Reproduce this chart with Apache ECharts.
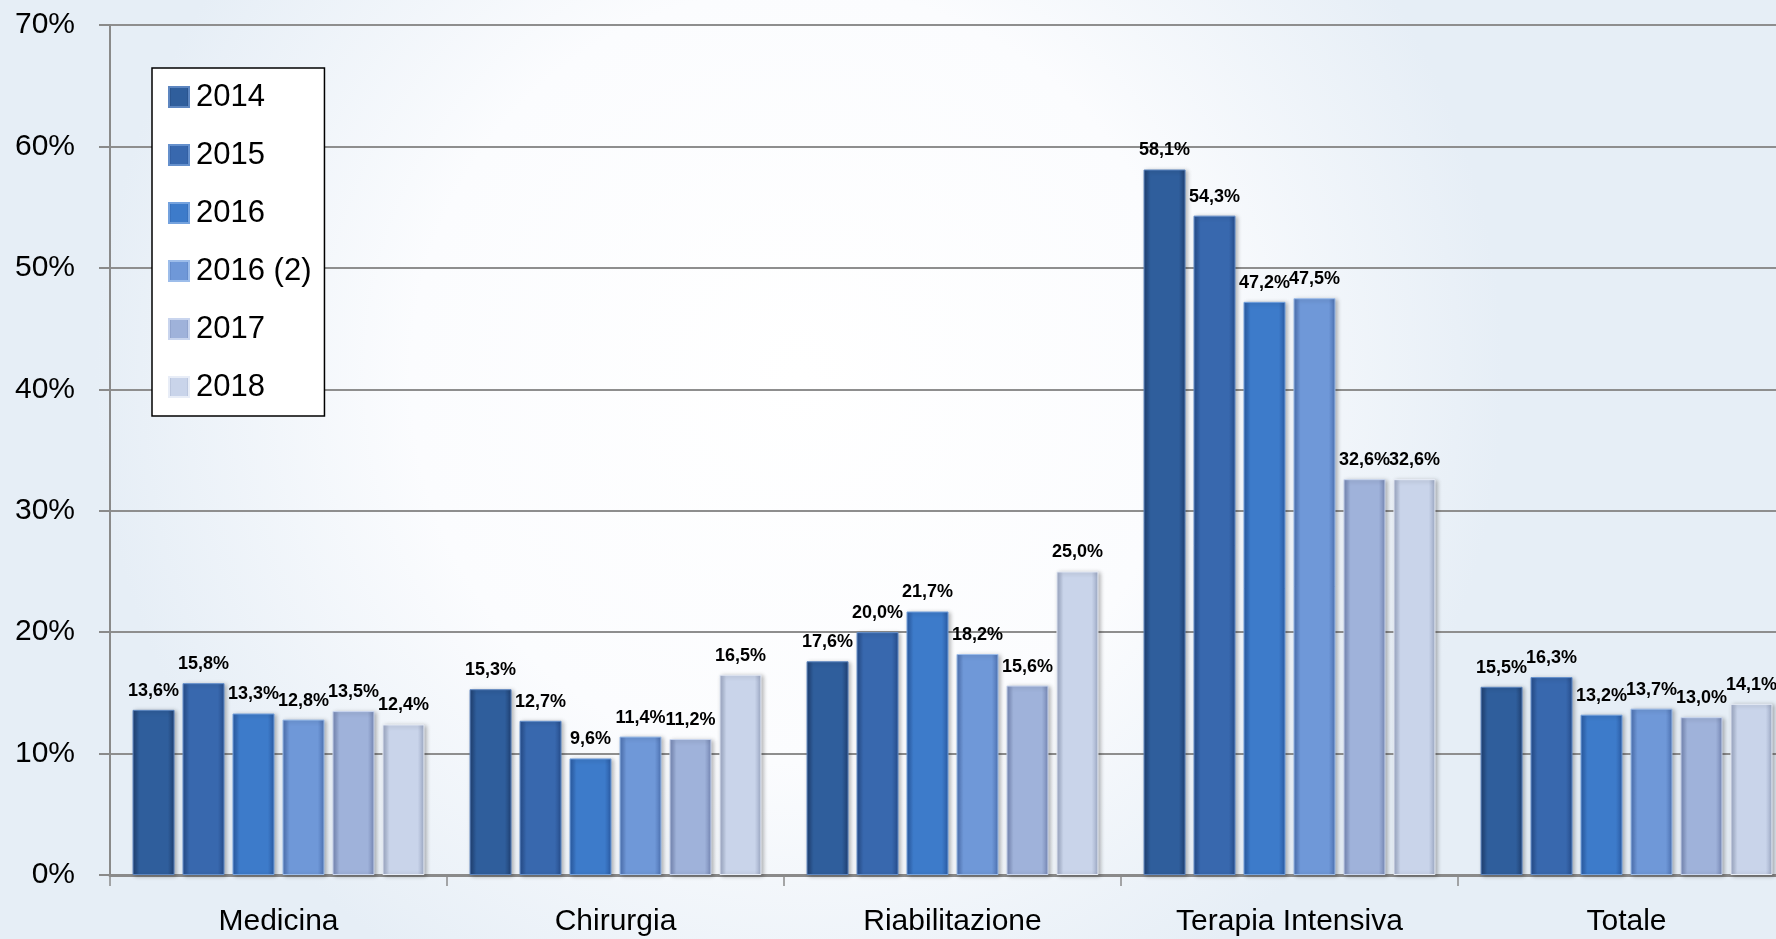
<!DOCTYPE html>
<html>
<head>
<meta charset="utf-8">
<title>Percentuale per reparto 2014-2018</title>
<script src="https://cdn.jsdelivr.net/npm/echarts@6/dist/echarts.min.js"></script>
<style>
  html, body { margin: 0; padding: 0; width: 100%; height: 100%; overflow: hidden; }
  #chart { width: 1776px; height: 939px; }
</style>
</head>
<body>
<div id="chart"></div>
<script>
// Reparti (categorie sull'asse x)
const categories = ['Medicina', 'Chirurgia', 'Riabilitazione', 'Terapia Intensiva', 'Totale'];

// Valori percentuali per anno
const years = ['2014', '2015', '2016', '2016 (2)', '2017', '2018'];
const v2014  = [13.6, 15.3, 17.6, 58.1, 15.5];
const v2015  = [15.8, 12.7, 20.0, 54.3, 16.3];
const v2016  = [13.3,  9.6, 21.7, 47.2, 13.2];
const v2016b = [12.8, 11.4, 18.2, 47.5, 13.7];
const v2017  = [13.5, 11.2, 15.6, 32.6, 13.0];
const v2018  = [12.4, 16.5, 25.0, 32.6, 14.1];

// Etichette dell'asse y
const yTicks = [0, 10, 20, 30, 40, 50, 60, 70];

const seriesValues = [v2014, v2015, v2016, v2016b, v2017, v2018];

// Colore dei bordi, del centro e del contorno chiaro per ogni anno
const palette = [
  { edge: '#1f3f70', mid: '#2f5e9c', border: '#5d86c0' },
  { edge: '#264c8a', mid: '#3868ae', border: '#6590cc' },
  { edge: '#2a5aa2', mid: '#3d7bca', border: '#74a2de' },
  { edge: '#4c70b0', mid: '#6f98d8', border: '#9dbdea' },
  { edge: '#7485b2', mid: '#9fb2da', border: '#c9d5ee' },
  { edge: '#9aa6c2', mid: '#c9d4ea', border: '#e8edf7' }
];

const font = '"Liberation Sans", Arial, sans-serif';

function fmtPct(v) {
  return v.toFixed(1).replace('.', ',') + '%';
}

const chart = echarts.init(document.getElementById('chart'), null, { renderer: 'canvas' });

const series = years.map((name, i) => ({
  name: name,
  type: 'bar',
  data: seriesValues[i],
  barWidth: 42,
  barGap: '19%',
  itemStyle: {
    color: new echarts.graphic.LinearGradient(0, 0, 1, 0, [
      { offset: 0, color: palette[i].edge },
      { offset: 0.16, color: palette[i].mid },
      { offset: 0.84, color: palette[i].mid },
      { offset: 1, color: palette[i].edge }
    ]),
    borderColor: palette[i].border,
    borderWidth: 1,
    shadowColor: 'rgba(0,0,0,0.28)',
    shadowBlur: 4,
    shadowOffsetX: 2,
    shadowOffsetY: 1
  },
  label: {
    show: true,
    position: 'top',
    distance: 10,
    color: '#000',
    fontFamily: font,
    fontWeight: 'bold',
    fontSize: 18,
    formatter: p => fmtPct(p.value)
  }
}));

chart.setOption({
  animation: false,
  backgroundColor: new echarts.graphic.RadialGradient(0.45, 0.4, 0.75, [
    { offset: 0, color: '#ffffff' },
    { offset: 0.55, color: '#fbfcfe' },
    { offset: 1, color: '#e6eef6' }
  ]),
  legend: {
    orient: 'vertical',
    left: 152,
    top: 68,
    padding: [10, 13, 10, 16],
    backgroundColor: '#ffffff',
    borderColor: '#000000',
    borderWidth: 1.5,
    itemWidth: 20,
    itemHeight: 20,
    itemGap: 20,
    icon: 'rect',
    textStyle: {
      fontFamily: font,
      fontSize: 31,
      lineHeight: 38,
      color: '#000',
      padding: [0, 0, 0, 2]
    },
    data: years
  },
  // the plot runs a little past the right edge of the canvas
  grid: {
    left: 110,
    top: 25,
    right: -19,
    bottom: 64,
    containLabel: false,
    outerBoundsMode: 'none'
  },
  xAxis: {
    type: 'category',
    data: categories,
    axisLine: { show: true, lineStyle: { color: '#8a8a8a', width: 3 } },
    axisTick: { show: true, length: 11, lineStyle: { color: '#8a8a8a', width: 1.5 } },
    axisLabel: {
      interval: 0,
      fontFamily: font,
      fontSize: 30,
      color: '#000',
      margin: 32
    },
    splitLine: { show: false }
  },
  yAxis: {
    type: 'value',
    min: yTicks[0],
    max: yTicks[yTicks.length - 1],
    interval: 10,
    axisLine: { show: true, lineStyle: { color: '#8a8a8a', width: 2 } },
    axisTick: { show: true, length: 11, lineStyle: { color: '#8a8a8a', width: 2 } },
    axisLabel: {
      fontFamily: font,
      fontSize: 30,
      color: '#000',
      margin: 35,
      formatter: v => v + '%'
    },
    splitLine: { show: true, lineStyle: { color: '#8e8e8e', width: 2 } }
  },
  series: series
});
</script>
</body>
</html>
